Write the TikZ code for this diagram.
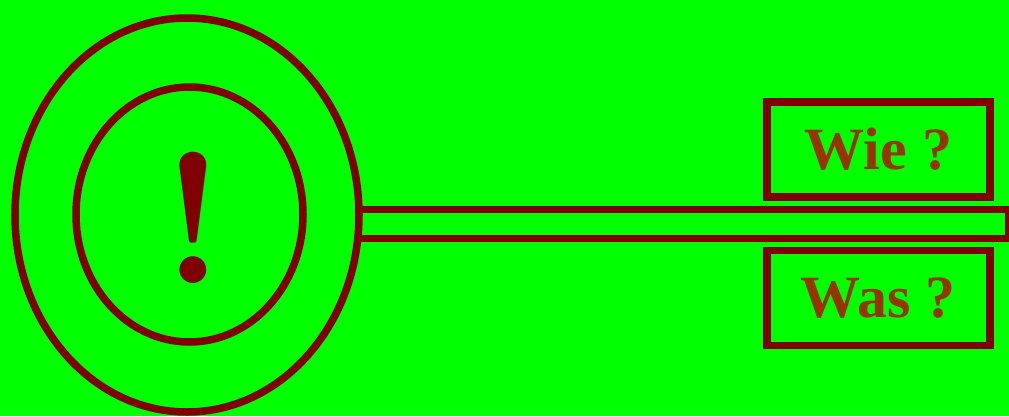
\documentclass[tikz,border=0pt]{standalone}
\usepackage{fontspec}
\newfontfamily\boxfont{Liberation Serif}
\usetikzlibrary{positioning,shapes.geometric}
\definecolor{bgC}{HTML}{00FF00}
\definecolor{lineC}{HTML}{800000}
\definecolor{textC}{HTML}{993300}

\begin{document}
\begin{tikzpicture}[x=1pt,y=-1pt,
    ring/.style={draw=lineC,line width=7.5pt,ellipse,inner sep=0pt,outer sep=0pt},
    tag/.style={draw=lineC,line width=7.5pt,rectangle,inner sep=0pt,outer sep=0pt,
      minimum width=223pt,minimum height=95pt,text=textC,
      font=\boxfont\fontsize{60}{60}\selectfont\bfseries}]
  % background
  \fill[bgC] (0,0) rectangle (1009,416);
  \useasboundingbox (0,0) rectangle (1009,416);

  % shaft
  \node[draw=lineC,line width=7pt,rectangle,inner sep=0pt,outer sep=0pt,
    minimum width=650pt,minimum height=29pt,anchor=west] (shaft) at (358,224) {};

  % rings
  \node[ring,fill=bgC,minimum width=344pt,minimum height=394pt] (outer) at (187,215) {};
  \node[ring,minimum width=227pt,minimum height=255pt] (inner) at (189.5,214.5) {};
  \node[lineC,anchor=base,inner sep=0pt,
    font=\fontsize{186}{186}\selectfont\bfseries] (mark) at (193.5,283) {!};

  % question boxes
  \node[tag] (wie) at (878.5,149.5) {Wie ?};
  \node[tag] (was) at (878.5,298) {Was ?};
\end{tikzpicture}
\end{document}
